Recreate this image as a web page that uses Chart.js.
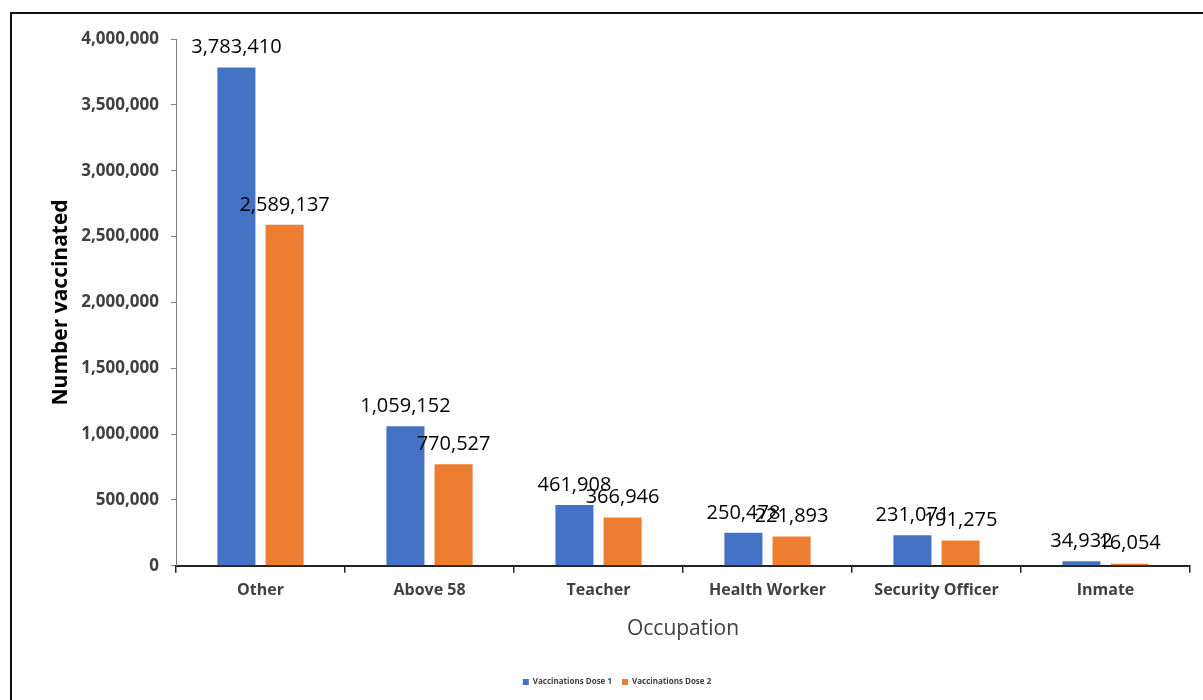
<!DOCTYPE html>
<html>
<head>
<meta charset="utf-8">
<script src="https://cdn.jsdelivr.net/npm/chart.js@4/dist/chart.umd.min.js"></script>
<style>
  html, body { margin: 0; padding: 0; background: #fff; }
  #frame { position: absolute; left: 10px; top: 12px; width: 1300px; height: 800px; border: 2px solid #111; box-sizing: border-box; }
  #wrap { position: absolute; left: 0; top: 0; width: 1203px; height: 700px; }
</style>
</head>
<body>
<div id="frame"></div>
<div id="wrap"><canvas id="c" width="1203" height="700"></canvas></div>
<script>
const categories = ["Other", "Above 58", "Teacher", "Health Worker", "Security Officer", "Inmate"];
const dose1 = [3783410, 1059152, 461908, 250478, 231071, 34932];
const dose2 = [2589137, 770527, 366946, 221893, 191275, 16054];
const seriesNames = ["Vaccinations Dose 1", "Vaccinations Dose 2"];
const yTicks = [0, 500000, 1000000, 1500000, 2000000, 2500000, 3000000, 3500000, 4000000];

const fmt = v => v.toLocaleString('en-US');

const labelPlugin = {
  id: 'valueLabels',
  afterDatasetsDraw(chart) {
    const ctx = chart.ctx;
    ctx.save();
    ctx.font = '20px "Open Sans"';
    ctx.fillStyle = '#000';
    ctx.textAlign = 'center';
    ctx.textBaseline = 'bottom';
    chart.data.datasets.forEach((ds, i) => {
      const meta = chart.getDatasetMeta(i);
      meta.data.forEach((bar, j) => {
        ctx.fillText(fmt(ds.data[j]), bar.x, bar.y - 10);
      });
    });
    ctx.restore();
  }
};

new Chart(document.getElementById('c'), {
  type: 'bar',
  data: {
    labels: categories,
    datasets: [
      { label: seriesNames[0], data: dose1, backgroundColor: '#4472C4', borderWidth: 0 },
      { label: seriesNames[1], data: dose2, backgroundColor: '#ED7D31', borderWidth: 0 }
    ]
  },
  plugins: [labelPlugin],
  options: {
    responsive: false,
    animation: false,
    devicePixelRatio: 1,
    categoryPercentage: 0.57,
    barPercentage: 0.79,
    layout: { padding: { left: 44, top: 39, right: 13, bottom: 4 } },
    plugins: {
      legend: {
        position: 'bottom',
        title: { display: true, text: '', font: { size: 1 }, padding: { top: 11, bottom: 10 } },
        labels: {
          font: { family: 'Open Sans', size: 8, weight: 'bold' },
          color: '#404040',
          boxWidth: 6, boxHeight: 6,
          padding: 10
        }
      },
      tooltip: { enabled: false }
    },
    scales: {
      x: {
        offset: true,
        grid: { display: true, drawOnChartArea: false, drawTicks: true, tickLength: 7, color: '#222', offset: true, lineWidth: 1.5 },
        border: { display: true, color: '#222', width: 2 },
        ticks: { font: { family: 'Open Sans', size: 16, weight: 'bold' }, color: '#404040', padding: 8 },
        title: { display: true, text: 'Occupation', font: { family: 'Open Sans', size: 21 }, color: '#404040', padding: { top: 2 } },
        afterFit(scale) { scale.height = 80; }
      },
      y: {
        min: 0, max: 4000000,
        afterBuildTicks(scale) { scale.ticks = yTicks.map(v => ({ value: v })); },
        grid: { display: true, drawOnChartArea: false, drawTicks: true, tickLength: 5, color: '#808080' },
        border: { display: true, color: '#808080', width: 1 },
        ticks: { font: { family: 'Open Sans', size: 17, weight: 'bold' }, color: '#404040', padding: 12, callback: v => fmt(v) },
        title: { display: true, text: 'Number vaccinated', font: { family: 'Open Sans', size: 21, weight: 'bold' }, color: '#000', padding: { bottom: 10 } },
        afterFit(scale) { scale.width = 132; }
      }
    }
  }
});
</script>
</body>
</html>
